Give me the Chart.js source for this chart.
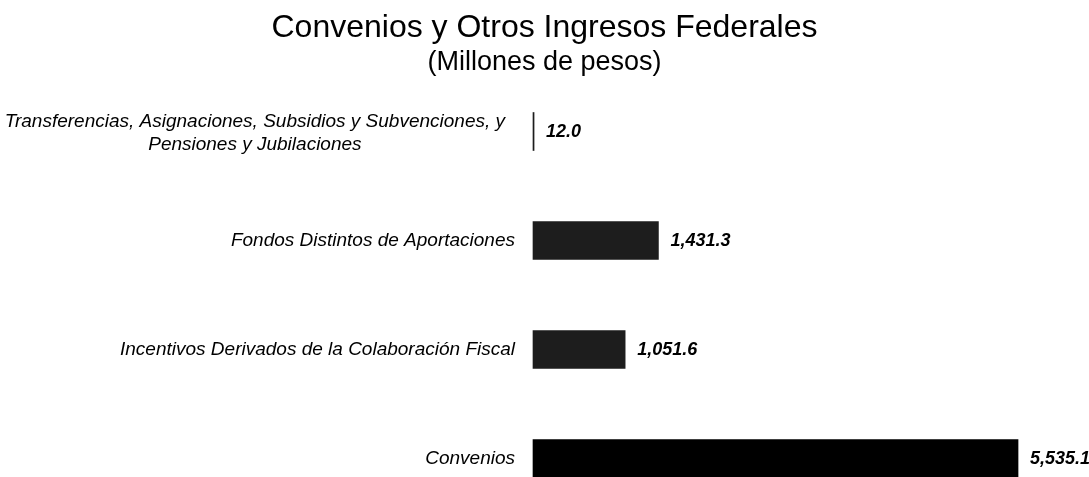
<!DOCTYPE html>
<html>
<head>
<meta charset="utf-8">
<script src="https://cdn.jsdelivr.net/npm/chart.js@4/dist/chart.umd.min.js"></script>
<style>
  html, body { margin: 0; padding: 0; background: #fff; }
  #wrap { width: 1089px; height: 477px; }
</style>
</head>
<body>
<div id="wrap"><canvas id="bars"></canvas></div>
<script>
// categories, top to bottom
var categories = [
    ['Transferencias, Asignaciones, Subsidios y Subvenciones, y', 'Pensiones y Jubilaciones'],
    'Fondos Distintos de Aportaciones',
    'Incentivos Derivados de la Colaboración Fiscal',
    'Convenios'
];
// millones de pesos
var montos = [12.0, 1431.3, 1051.6, 5535.1];

var fmt = function (v) {
    return v.toLocaleString('en-US', { minimumFractionDigits: 1, maximumFractionDigits: 1 });
};

// draws category names (right aligned, wrapped lines centered) and the value at the end of each bar
var etiquetas = {
    id: 'etiquetas',
    afterDatasetsDraw: function (chart) {
        var ctx = chart.ctx;
        var y = chart.scales.y;
        var meta = chart.getDatasetMeta(0);
        ctx.save();
        ctx.fillStyle = '#000';
        ctx.textBaseline = 'middle';

        ctx.font = "italic 19px 'Liberation Sans', Arial, sans-serif";
        categories.forEach(function (c, i) {
            var lines = Array.isArray(c) ? c : [c];
            var right = chart.chartArea.left - (lines.length > 1 ? 28 : 18);
            var w = 0;
            lines.forEach(function (l) { w = Math.max(w, ctx.measureText(l).width); });
            var cy = y.getPixelForValue(i);
            var lh = 23;
            var y0 = cy - (lines.length - 1) * lh / 2 + (lines.length > 1 ? 2 : 0);
            ctx.textAlign = 'center';
            lines.forEach(function (l, k) {
                ctx.fillText(l, right - w / 2, y0 + k * lh);
            });
        });

        ctx.font = "bold italic 18px 'Liberation Sans', Arial, sans-serif";
        ctx.textAlign = 'left';
        meta.data.forEach(function (bar, i) {
            ctx.fillText(fmt(montos[i]), bar.x + 12, bar.y + 1);
        });
        ctx.restore();
    }
};

var ctx = document.getElementById('bars').getContext('2d');
var chart = new Chart(ctx, {
    type: 'bar',
    data: {
        labels: categories,
        datasets: [{
            data: montos,
            backgroundColor: ['#1d1d1d', '#1d1d1d', '#1d1d1d', '#000000'],
            barThickness: 38,
            clip: false
        }]
    },
    options: {
        indexAxis: 'y',
        responsive: true,
        maintainAspectRatio: false,
        animation: false,
        layout: { padding: { left: 0, right: 0, top: 0, bottom: 18.5 } },
        scales: {
            x: {
                display: false,
                min: 0,
                max: 6345
            },
            y: {
                offset: false,
                grid: { display: false },
                border: { display: false },
                ticks: { display: false },
                afterFit: function (s) { s.width = 533; }
            }
        },
        plugins: {
            legend: { display: false },
            tooltip: { enabled: false },
            title: {
                display: true,
                text: 'Convenios y Otros Ingresos Federales',
                color: '#000',
                font: { family: "'Liberation Sans', Arial, sans-serif", size: 32, weight: 'normal', lineHeight: 1 },
                padding: { top: 12, bottom: 0 }
            },
            subtitle: {
                display: true,
                text: '(Millones de pesos)',
                color: '#000',
                font: { family: "'Liberation Sans', Arial, sans-serif", size: 27, weight: 'normal', lineHeight: 1 },
                padding: { top: 5, bottom: 55.5 }
            }
        }
    },
    plugins: [etiquetas]
});
</script>
</body>
</html>
